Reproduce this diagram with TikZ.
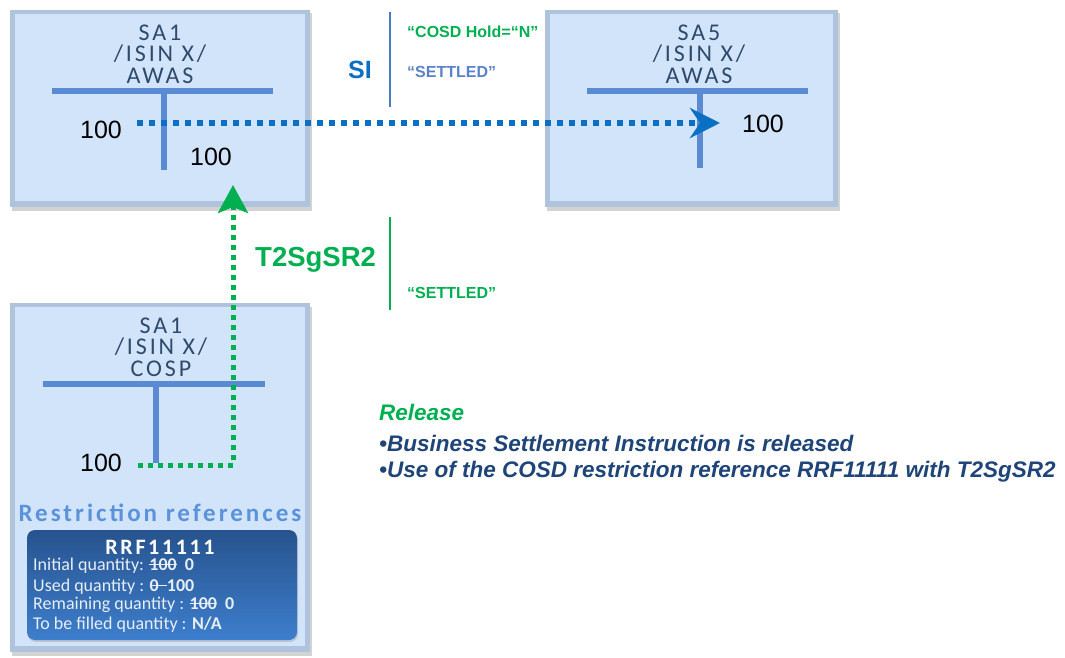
\documentclass[tikz,border=0pt]{standalone}
\usepackage{fontspec}
\usepackage{tikz}
\usetikzlibrary{arrows.meta, positioning, shadows}

\setmainfont{Liberation Sans}
\newfontfamily\acctfont[LetterSpace=12]{Carlito}
\newfontfamily\reffont{Carlito}

\definecolor{boxface}{HTML}{D2E4FA}
\definecolor{boxedge}{HTML}{AFC3DC}
\definecolor{tline}{HTML}{5A8AD2}
\definecolor{acctext}{HTML}{2E4B6C}
\definecolor{siblue}{HTML}{0B6FC4}
\definecolor{srgreen}{HTML}{00B050}
\definecolor{setblue}{HTML}{5A82C8}
\definecolor{divblue}{HTML}{4A7CC0}
\definecolor{refblue}{HTML}{5B93DA}
\definecolor{reftop}{HTML}{27538E}
\definecolor{refbot}{HTML}{3D7ECC}
\definecolor{reftext}{HTML}{E8EEF5}
\definecolor{notes}{HTML}{1F4478}

\newsavebox{\strkbox}
\newcommand{\strk}[1]{\sbox{\strkbox}{#1}\rlap{\rule[0.3em]{\wd\strkbox}{1.6pt}}\usebox{\strkbox}}

\begin{document}
\begin{tikzpicture}[x=1pt, y=-1pt,
  acct/.style={fill=boxedge, inner sep=0pt, outer sep=0pt,
    drop shadow={shadow xshift=1.5pt, shadow yshift=-3.5pt, fill=black!50, opacity=0.35},
    path picture={\fill[boxface] ([shift={(5pt,-4pt)}]path picture bounding box.north west)
      rectangle ([shift={(-5pt,6pt)}]path picture bounding box.south east);}},
  acctitle/.style={align=center, text=acctext, font=\acctfont\fontsize{24}{21.5}\selectfont},
  tbar/.style={tline, line width=5.5pt},
  qty/.style={font=\fontsize{25}{30}\selectfont},
  lbl/.style={anchor=west, inner sep=0pt, font=\bfseries\fontsize{16}{19}\selectfont},
  siflow/.style={siblue, line width=5.5pt, dash pattern=on 6pt off 6pt,
    -{Stealth[length=30pt, width=30pt, inset=10pt]}},
  srflow/.style={srgreen, line width=5pt, dash pattern=on 5pt off 5pt,
    -{Stealth[length=28pt, width=30pt, inset=6pt]}},
  refcard/.style={rounded corners=8pt, top color=reftop, bottom color=refbot, inner sep=0pt,
    drop shadow={shadow xshift=1pt, shadow yshift=-2pt, fill=black!40, opacity=0.4}},
  refline/.style={anchor=west, inner sep=0pt, text=reftext, font=\reffont\fontsize{18}{20}\selectfont},
  note/.style={anchor=west, inner sep=0pt, text=notes, font=\bfseries\itshape\fontsize{22.5}{26}\selectfont}]

\useasboundingbox (0,0) rectangle (1065,658);

% accounts
\node[acct, minimum width=300pt, minimum height=197pt] (awas) at (160,108.5) {};
\node[acct, minimum width=293pt, minimum height=197pt] (awas5) at (691.5,108.5) {};
\node[acct, minimum width=300pt, minimum height=349pt] (cosp) at (160,477.5) {};

\node[acctitle] (awasT) at (160,54) {SA1\\/ISIN X/\\AWAS};
\node[acctitle] (awas5T) at (699,54) {SA5\\/ISIN X/\\AWAS};
\node[acctitle] (cospT) at (161,347) {SA1\\/ISIN X/\\COSP};

\draw[tbar] (52,91) -- (273,91) (164,91) -- (164,170);
\draw[tbar] (587,91) -- (808,91) (700,91) -- (700,168);
\draw[tbar] (43,384) -- (265,384) (156,384) -- (156,463);

\node[qty] (awasDr) at (101,130) {100};
\node[qty] (awasCr) at (211,157) {100};
\node[qty] (awas5Cr) at (763,124) {100};
\node[qty] (cospDr) at (101,463) {100};

% SI
\node[font=\bfseries\fontsize{25}{30}\selectfont, text=siblue] (si) at (360,70) {SI};
\draw[divblue, line width=2pt] (390,12) -- (390,107);
\node[lbl, text=srgreen] (siHold) at (407,32) {“COSD Hold=“N”};
\node[lbl, text=setblue, below=40pt of siHold.west, anchor=west] (siSet) {“SETTLED”};

% T2SgSR2
\node[lbl, text=srgreen, font=\bfseries\fontsize{27.5}{30}\selectfont] (sr) at (255,260) {T2SgSR2};
\draw[srgreen, line width=2pt] (390,217) -- (390,310);
\node[lbl, text=srgreen] (srSet) at (407,293) {“SETTLED”};

% restriction references
\node[text=refblue, font=\acctfont\bfseries\fontsize{25}{28}\selectfont] (refs) at (160,513) {Restriction references};
\node[refcard, minimum width=270pt, minimum height=110pt] (rrf) at (162,585) {};
\node[text=white, font=\acctfont\bfseries\fontsize{22}{24}\selectfont] (rrfT) at (160,547) {RRF11111};
\node[refline] (rrfI) at (33,566) {Initial quantity: \textbf{\strk{100}~~0}};
\node[refline] (rrfU) at (33,587) {Used quantity : \textbf{\strk{0~~}100}};
\node[refline] (rrfR) at (33,605) {Remaining quantity : \textbf{\strk{100}~~0}};
\node[refline] (rrfF) at (33,625) {To be filled quantity : \textbf{N/A}};

% release
\node[note, text=srgreen] (rel) at (379,412) {Release};
\node[note, below=31pt of rel.west, anchor=west] (relBsi) {•Business Settlement Instruction is released};
\node[note, below=29pt of relBsi.west, anchor=west] (relRrf) {•Use of the COSD restriction reference RRF11111 with T2SgSR2};

% flows
\coordinate (siFrom) at (137,123);
\coordinate (siTo) at (720,123);
\draw[siflow] (siFrom) -- (siTo);
\coordinate (srFrom) at (138,465);
\coordinate (srTo) at (233,185);
\draw[srflow] (srFrom) -| (srTo);

\end{tikzpicture}
\end{document}
